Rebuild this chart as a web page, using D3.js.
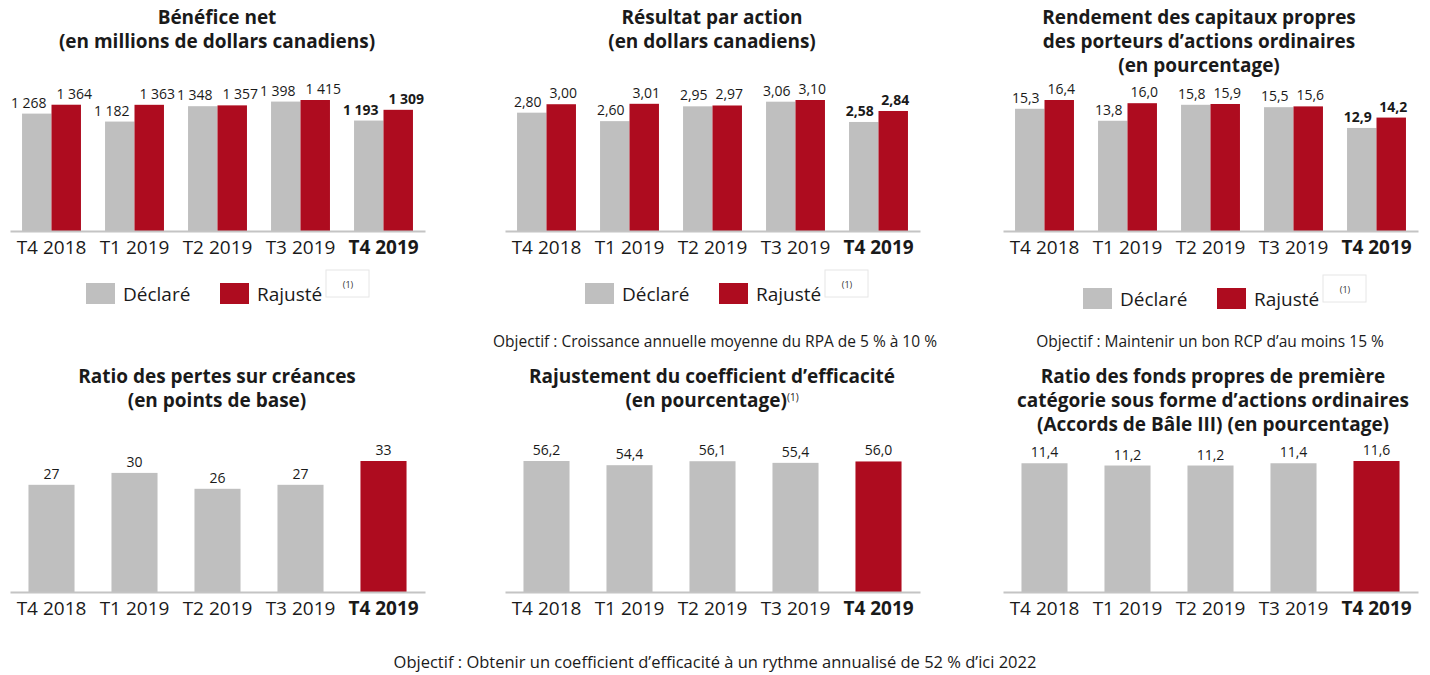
<!doctype html>
<html>
  <head>
    <meta charset="utf-8">
    <script src="https://cdn.jsdelivr.net/npm/d3@7"></script>
    <style>
      body { margin: 0; background: #fff; }
      svg text { font-family: "Open Sans", sans-serif; }
      text.title { font-weight: bold; font-size: 19px; fill: #1a1a1a; }
      text.value { font-size: 14px; fill: #1a1a1a; }
      text.value.last { font-weight: bold; }
      .tick text { font-size: 19px; fill: #1a1a1a; }
      text.legend { font-size: 19px; fill: #1a1a1a; }
      text.note { font-size: 15.5px; fill: #1a1a1a; }
      text.sup { font-size: 9px; fill: #333; }
    </style>
  </head>
  <body>
    <svg width="1430" height="675"></svg>
    <script>
      // quarters on every x axis
      var quarters = ["T4 2018", "T1 2019", "T2 2019", "T3 2019", "T4 2019"];

      var netIncomeReported = [1268, 1182, 1348, 1398, 1193];
      var netIncomeAdjusted = [1364, 1363, 1357, 1415, 1309];
      var epsReported = [2.80, 2.60, 2.95, 3.06, 2.58];
      var epsAdjusted = [3.00, 3.01, 2.97, 3.10, 2.84];
      var roeReported = [15.3, 13.8, 15.8, 15.5, 12.9];
      var roeAdjusted = [16.4, 16.0, 15.9, 15.6, 14.2];
      var pclRatio = [27, 30, 26, 27, 33];
      var efficiencyRatio = [56.2, 54.4, 56.1, 55.4, 56.0];
      var cet1Ratio = [11.4, 11.2, 11.2, 11.4, 11.6];

      var seriesNames = ["Déclaré", "Rajusté"];

      var GREY = "#bfbfbf", RED = "#ae0c1f", AXIS = "#c4c4c4";

      var fr = d3.formatLocale({decimal: ",", thousands: " ", grouping: [3], currency: ["", " $"]});

      var svg = d3.select("svg");
      svg.append("rect").attr("width", 1430).attr("height", 675).attr("fill", "#fff");

      var panelX = [10, 505, 1003];
      var panelW = 415;
      var barMax = 131;

      function title(lines, cx, y0, sup) {
        var t = svg.append("text").attr("class", "title").attr("text-anchor", "middle");
        lines.forEach(function(l, i) {
          t.append("tspan").attr("x", cx).attr("y", y0 + i * 24).text(l);
        });
        if (sup) {
          t.append("tspan").attr("dy", -6).style("font-size", "10px").style("font-weight", "normal").text(sup);
        }
      }

      function axis(g, x, baseline) {
        var ax = g.append("g")
          .attr("transform", "translate(0," + baseline + ")")
          .call(d3.axisBottom(x).tickSize(0).tickPadding(8));
        ax.attr("font-family", null).attr("font-size", null);
        ax.select(".domain").attr("stroke", AXIS).attr("stroke-width", 2);
        ax.selectAll(".tick text")
          .style("font-weight", function(d, i) { return i === quarters.length - 1 ? "bold" : null; })
          .attr("dy", "0.8em");
      }

      function groupedChart(px, series, fmt, baseline, shift) {
        var g = svg.append("g");
        var x = d3.scaleBand().domain(quarters).range([px, px + panelW])
          .paddingInner(0.29).paddingOuter(0.145);
        var xs = d3.scaleBand().domain(seriesNames).range([0, x.bandwidth()]);
        var maxV = d3.max(series, function(s) { return d3.max(s); });
        var y = d3.scaleLinear().domain([0, maxV]).range([baseline, baseline - barMax]);
        var colors = [GREY, RED];

        series.forEach(function(vals, si) {
          g.selectAll(null).data(vals).enter().append("rect")
            .attr("x", function(d, i) { return x(quarters[i]) + xs(seriesNames[si]); })
            .attr("y", function(d) { return y(d); })
            .attr("width", xs.bandwidth())
            .attr("height", function(d) { return baseline - y(d); })
            .attr("fill", colors[si]);
          g.selectAll(null).data(vals).enter().append("text")
            .attr("class", function(d, i) { return i === vals.length - 1 ? "value last" : "value"; })
            .attr("text-anchor", "middle")
            .attr("x", function(d, i) { return x(quarters[i]) + xs(seriesNames[si]) + xs.bandwidth() / 2 + shift[si]; })
            .attr("y", function(d) { return y(d) - 6; })
            .text(function(d) { return fmt(d); });
        });
        axis(g, x, baseline);
      }

      function singleChart(px, vals, fmt, baseline) {
        var g = svg.append("g");
        var x = d3.scaleBand().domain(quarters).range([px, px + panelW])
          .paddingInner(0.445).paddingOuter(0.2225);
        var y = d3.scaleLinear().domain([0, d3.max(vals)]).range([baseline, baseline - barMax]);
        g.selectAll(null).data(vals).enter().append("rect")
          .attr("x", function(d, i) { return x(quarters[i]); })
          .attr("y", function(d) { return y(d); })
          .attr("width", x.bandwidth())
          .attr("height", function(d) { return baseline - y(d); })
          .attr("fill", function(d, i) { return i === vals.length - 1 ? RED : GREY; });
        g.selectAll(null).data(vals).enter().append("text")
          .attr("class", "value")
          .attr("text-anchor", "middle")
          .attr("x", function(d, i) { return x(quarters[i]) + x.bandwidth() / 2; })
          .attr("y", function(d) { return y(d) - 6; })
          .text(function(d) { return fmt(d); });
        axis(g, x, baseline);
      }

      function legend(x0, y0) {
        var g = svg.append("g").attr("transform", "translate(" + x0 + "," + y0 + ")");
        var items = [{x: 0, c: GREY, t: seriesNames[0]}, {x: 134, c: RED, t: seriesNames[1]}];
        items.forEach(function(it) {
          g.append("rect").attr("x", it.x).attr("y", 0).attr("width", 29).attr("height", 21).attr("fill", it.c);
          g.append("text").attr("class", "legend").attr("x", it.x + 37).attr("y", 18).text(it.t);
        });
        g.append("rect").attr("x", 240).attr("y", -13).attr("width", 43).attr("height", 27)
          .attr("fill", "none").attr("stroke", "#e6e6e6");
        g.append("text").attr("class", "sup").attr("x", 262).attr("y", 5).attr("text-anchor", "middle").text("(1)");
      }

      // top row
      var topBase = 231;
      title(["Bénéfice net", "(en millions de dollars canadiens)"], 217, 24);
      title(["Résultat par action", "(en dollars canadiens)"], 712, 24);
      title(["Rendement des capitaux propres", "des porteurs d’actions ordinaires", "(en pourcentage)"], 1199, 24);

      groupedChart(panelX[0], [netIncomeReported, netIncomeAdjusted], fr.format(",d"), topBase, [-8, 8]);
      groupedChart(panelX[1], [epsReported, epsAdjusted], fr.format(".2f"), topBase, [-4, 2]);
      groupedChart(panelX[2], [roeReported, roeAdjusted], fr.format(".1f"), topBase, [-4, 2]);

      legend(86, 283);
      legend(585, 283);
      legend(1083, 288);

      svg.append("text").attr("class", "note").attr("x", 715).attr("y", 347).attr("text-anchor", "middle")
        .text("Objectif : Croissance annuelle moyenne du RPA de 5 % à 10 %");
      svg.append("text").attr("class", "note").attr("x", 1210).attr("y", 347).attr("text-anchor", "middle")
        .text("Objectif : Maintenir un bon RCP d’au moins 15 %");

      // bottom row
      var botBase = 592;
      title(["Ratio des pertes sur créances", "(en points de base)"], 217, 383);
      title(["Rajustement du coefficient d’efficacité", "(en pourcentage)"], 712, 383, "(1)");
      title(["Ratio des fonds propres de première", "catégorie sous forme d’actions ordinaires", "(Accords de Bâle III) (en pourcentage)"], 1213, 383);

      singleChart(panelX[0], pclRatio, fr.format("d"), botBase);
      singleChart(panelX[1], efficiencyRatio, fr.format(".1f"), botBase);
      singleChart(panelX[2], cet1Ratio, fr.format(".1f"), botBase);

      svg.append("text").attr("class", "note").attr("x", 715).attr("y", 668).attr("text-anchor", "middle")
        .style("font-size", "16.5px")
        .text("Objectif : Obtenir un coefficient d’efficacité à un rythme annualisé de 52 % d’ici 2022");
    </script>
  </body>
</html>
